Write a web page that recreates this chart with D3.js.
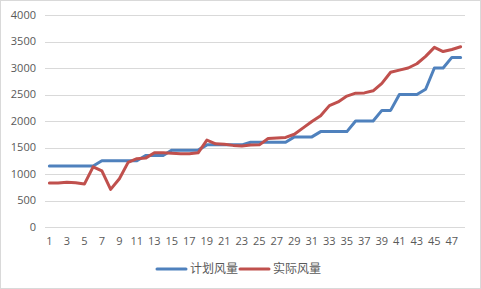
<!DOCTYPE html>
<html>
<head>
<meta charset="utf-8">
<script src="https://cdn.jsdelivr.net/npm/d3@7"></script>
<style>
  body { margin: 0; background: #fff; }
  text { font-family: "Open Sans", "Noto Sans CJK SC", sans-serif; fill: #595959; }
</style>
</head>
<body>
<div id="chart"></div>
<script>
const categories = d3.range(1, 49);
const planned = [1150, 1150, 1150, 1150, 1150, 1150, 1250, 1250, 1250, 1250, 1250, 1350,
    1350, 1350, 1450, 1450, 1450, 1450, 1550, 1550, 1550, 1550, 1550, 1600,
    1600, 1600, 1600, 1600, 1700, 1700, 1700, 1800, 1800, 1800, 1800, 2000,
    2000, 2000, 2200, 2200, 2500, 2500, 2500, 2600, 3000, 3000, 3200, 3200];
const actual = [830, 830, 845, 835, 810, 1135, 1060, 710, 910, 1220, 1290, 1300,
    1400, 1400, 1390, 1380, 1380, 1400, 1640, 1570, 1560, 1540, 1530, 1545,
    1550, 1670, 1680, 1690, 1750, 1870, 1990, 2100, 2290, 2360, 2470, 2525,
    2530, 2570, 2710, 2920, 2960, 3000, 3080, 3220, 3390, 3310, 3350, 3400];
const yTicks = [0, 500, 1000, 1500, 2000, 2500, 3000, 3500, 4000];
const seriesNames = ["计划风量", "实际风量"];
const colors = ["#4F81BD", "#C0504D"];

const width = 481, height = 289;
const svg = d3.select("#chart")
    .append("svg")
    .attr("width", width)
    .attr("height", height);

svg.append("rect")
    .attr("x", 0.5).attr("y", 0.5)
    .attr("width", width - 1).attr("height", height - 1)
    .attr("fill", "#fff")
    .attr("stroke", "#D9D9D9");

const x = d3.scaleBand()
    .domain(categories)
    .range([45, 465]);

const y = d3.scaleLinear()
    .domain([0, 4000])
    .range([227, 15]);

// grid
svg.append("g")
    .selectAll("line")
    .data(yTicks)
    .enter()
    .append("line")
    .attr("x1", 45).attr("x2", 465)
    .attr("y1", d => Math.round(y(d)) + 0.5)
    .attr("y2", d => Math.round(y(d)) + 0.5)
    .attr("stroke", "#D9D9D9")
    .attr("stroke-width", 1);

// y labels
svg.append("g")
    .selectAll("text")
    .data(yTicks)
    .enter()
    .append("text")
    .attr("x", 36)
    .attr("y", d => y(d))
    .attr("dy", "0.35em")
    .attr("text-anchor", "end")
    .attr("font-size", 11)
    .text(d => d);

// x labels (odd only)
svg.append("g")
    .selectAll("text")
    .data(categories.filter(d => d % 2 == 1))
    .enter()
    .append("text")
    .attr("x", d => x(d) + x.bandwidth() / 2)
    .attr("y", 241)
    .attr("dy", "0.35em")
    .attr("text-anchor", "middle")
    .attr("font-size", 11)
    .text(d => d);

const line = d3.line()
    .x((d, i) => x(categories[i]) + x.bandwidth() / 2)
    .y(d => y(d));

[planned, actual].forEach((s, i) => {
    svg.append("path")
        .datum(s)
        .attr("d", line)
        .attr("fill", "none")
        .attr("stroke", colors[i])
        .attr("stroke-width", 3)
        .attr("stroke-linejoin", "round")
        .attr("stroke-linecap", "round");
});

// legend
const legend = svg.append("g");
const legendX = [157, 240];
seriesNames.forEach((name, i) => {
    legend.append("line")
        .attr("x1", legendX[i]).attr("x2", legendX[i] + 29)
        .attr("y1", 269).attr("y2", 269)
        .attr("stroke", colors[i])
        .attr("stroke-width", 3)
        .attr("stroke-linecap", "round");
    legend.append("text")
        .attr("x", legendX[i] + 33)
        .attr("y", 269)
        .attr("dy", "0.36em")
        .attr("font-size", 12)
        .text(name);
});
</script>
</body>
</html>
